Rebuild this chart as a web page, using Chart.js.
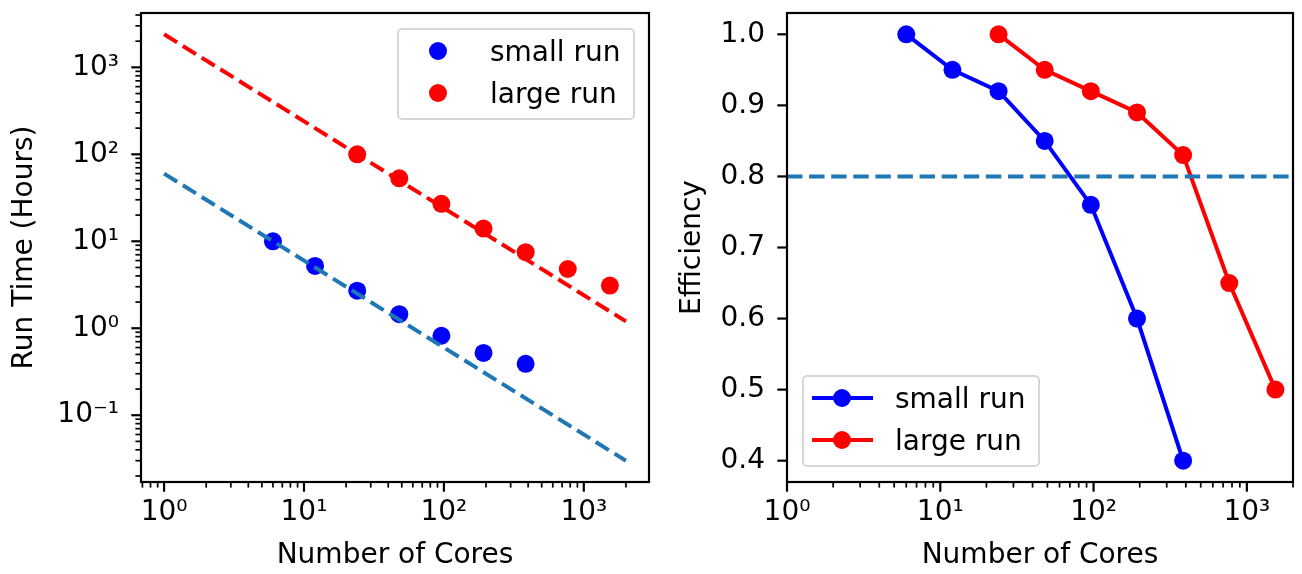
<!DOCTYPE html>
<html>
<head>
<meta charset="utf-8">
<script src="https://cdn.jsdelivr.net/npm/chart.js@4.4.1/dist/chart.umd.min.js"></script>
<style>
  html, body { margin: 0; padding: 0; background: #fff; }
  #wrap { position: relative; width: 1302px; height: 574px; font-family: 'DejaVu Sans', sans-serif; }
  .panel { position: absolute; top: 0; height: 574px; }
  .legend {
    position: absolute; box-sizing: border-box; width: 238px; height: 92px;
    border: 2px solid #d6d6d6; border-radius: 5px; background: rgba(255,255,255,0.8);
  }
  .legend .dot { position: absolute; width: 18px; height: 18px; border-radius: 50%; margin: -9px 0 0 -9px; }
  .legend .seg { position: absolute; height: 4px; margin-top: -2px; }
  .legend .txt { position: absolute; font-size: 28px; line-height: 28px; color: #000; white-space: nowrap; }
</style>
</head>
<body>
<div id="wrap">
  <div class="panel" style="left:0;width:660px"><canvas id="time" width="660" height="574"></canvas></div>
  <div class="panel" style="left:660px;width:642px"><canvas id="eff" width="642" height="574"></canvas></div>
  <div class="legend" id="legend-time" style="left:397px;top:28px"></div>
  <div class="legend" id="legend-eff" style="left:802px;top:375px"></div>
</div>
<script>
// measured data
const seriesNames = ['small run', 'large run'];
const coresSmall = [6, 12, 24, 48, 96, 192, 384];
const coresLarge = [24, 48, 96, 192, 384, 768, 1536];
const timeSmall = [10, 5.2, 2.7, 1.45, 0.82, 0.52, 0.39];
const timeLarge = [100, 53, 27, 14, 7.5, 4.8, 3.1];
const effSmall = [1.0, 0.95, 0.92, 0.85, 0.76, 0.60, 0.40];
const effLarge = [1.0, 0.95, 0.92, 0.89, 0.83, 0.65, 0.50];

// ideal scaling lines (end points)
const idealX = [1, 2000];
const idealSmall = [60, 0.03];
const idealLarge = [2400, 1.2];
const effTarget = [0.8, 0.8];

// tick labels
const decadeTicks = [0.1, 1, 10, 100, 1000];
const decadeLabels = ['10\u207B\u00B9', '10\u2070', '10\u00B9', '10\u00B2', '10\u00B3'];
const effTicks = [0.4, 0.5, 0.6, 0.7, 0.8, 0.9, 1.0];
const effLabels = ['0.4', '0.5', '0.6', '0.7', '0.8', '0.9', '1.0'];

const BLUE = '#0000ff';
const RED = '#ff0000';
const TAB_BLUE = '#1f77b4';
const FONT = "'DejaVu Sans', sans-serif";

Chart.defaults.font.family = FONT;
Chart.defaults.font.size = 28;
Chart.defaults.color = '#000';

const pts = (xs, ys) => xs.map((x, i) => ({ x, y: ys[i] }));

function logTickValues(min, max) {
  const out = [];
  for (let e = -3; e <= 4; e++) {
    for (let m = 1; m <= 9; m++) {
      const v = +(m * Math.pow(10, e)).toPrecision(6);
      if (v >= min && v <= max) out.push(v);
    }
  }
  return out;
}

function labelFor(value, majors, labels) {
  const i = majors.findIndex(m => Math.abs(value - m) <= m * 1e-6);
  return i < 0 ? '' : labels[i];
}

function isMajor(value, majors) {
  return majors.some(m => Math.abs(value - m) <= m * 1e-6);
}

// spines and matplotlib-like outward ticks
const frameTicks = {
  id: 'frameTicks',
  afterDraw(chart, args, opts) {
    const { ctx, chartArea: a, scales } = chart;
    ctx.save();
    ctx.strokeStyle = '#000';
    ctx.lineCap = 'butt';
    scales.x.ticks.forEach(t => {
      const px = scales.x.getPixelForValue(t.value);
      const major = isMajor(t.value, opts.xMajor);
      ctx.lineWidth = major ? 2.2 : 1.7;
      ctx.beginPath();
      ctx.moveTo(px, a.bottom);
      ctx.lineTo(px, a.bottom + (major ? 9.7 : 5.6));
      ctx.stroke();
    });
    scales.y.ticks.forEach(t => {
      const py = scales.y.getPixelForValue(t.value);
      const major = isMajor(t.value, opts.yMajor);
      ctx.lineWidth = major ? 2.2 : 1.7;
      ctx.beginPath();
      ctx.moveTo(a.left, py);
      ctx.lineTo(a.left - (major ? 9.7 : 5.6), py);
      ctx.stroke();
    });
    ctx.lineWidth = 2.2;
    ctx.strokeRect(a.left, a.top, a.right - a.left, a.bottom - a.top);
    ctx.restore();
  }
};

function xAxis(min, max, tickValues, majors, labels) {
  return {
    type: 'logarithmic', min, max,
    grid: { display: false, drawTicks: false },
    border: { display: false },
    afterBuildTicks: s => { s.ticks = tickValues.map(v => ({ value: v })); },
    afterFit: s => { s.height = 92; s.paddingLeft = s.paddingRight = 0; },
    ticks: {
      autoSkip: false, maxRotation: 0, padding: 14,
      callback: v => labelFor(v, majors, labels)
    },
    title: { display: true, text: 'Number of Cores', padding: { top: 0, bottom: 1 } }
  };
}

function yAxis(type, min, max, tickValues, majors, labels, title, width, titlePad) {
  return {
    type, min, max,
    grid: { display: false, drawTicks: false },
    border: { display: false },
    afterBuildTicks: s => { s.ticks = tickValues.map(v => ({ value: v })); },
    afterFit: s => { s.width = width; s.paddingTop = s.paddingBottom = 0; },
    ticks: {
      autoSkip: false, padding: 22,
      callback: v => labelFor(v, majors, labels)
    },
    title: { display: true, text: title, padding: { top: titlePad, bottom: 0 } }
  };
}

const timeChart = new Chart(document.getElementById('time'), {
  type: 'scatter',
  data: {
    datasets: [
      { label: 'ideal large', data: pts(idealX, idealLarge), showLine: true, borderColor: RED,
        borderWidth: 4, borderDash: [15.4, 6.7], pointRadius: 0, order: 0 },
      { label: 'ideal small', data: pts(idealX, idealSmall), showLine: true, borderColor: TAB_BLUE,
        borderWidth: 4, borderDash: [15.4, 6.7], pointRadius: 0, order: 0 },
      { label: seriesNames[0], data: pts(coresSmall, timeSmall), backgroundColor: BLUE,
        pointRadius: 9, pointBorderWidth: 0, order: 1 },
      { label: seriesNames[1], data: pts(coresLarge, timeLarge), backgroundColor: RED,
        pointRadius: 9, pointBorderWidth: 0, order: 1 }
    ]
  },
  options: {
    responsive: false, animation: false, devicePixelRatio: 1,
    layout: { padding: { top: 13, right: 11, left: 0, bottom: 0 } },
    plugins: {
      legend: { display: false }, tooltip: { enabled: false },
      frameTicks: { xMajor: decadeTicks, yMajor: decadeTicks }
    },
    scales: {
      x: xAxis(0.684, 2924, logTickValues(0.684, 2924), decadeTicks, decadeLabels),
      y: yAxis('logarithmic', 0.01706, 4217, logTickValues(0.01706, 4217), decadeTicks, decadeLabels,
        'Run Time (Hours)', 141, 8)
    }
  },
  plugins: [frameTicks]
});

const effChart = new Chart(document.getElementById('eff'), {
  type: 'scatter',
  data: {
    datasets: [
      { label: 'target', data: pts(idealX, effTarget), showLine: true, borderColor: TAB_BLUE,
        borderWidth: 4, borderDash: [15.4, 6.7], pointRadius: 0, order: 0 },
      { label: seriesNames[0], data: pts(coresSmall, effSmall), showLine: true, borderColor: BLUE,
        backgroundColor: BLUE, borderWidth: 4, pointRadius: 9, pointBorderWidth: 0, order: 1 },
      { label: seriesNames[1], data: pts(coresLarge, effLarge), showLine: true, borderColor: RED,
        backgroundColor: RED, borderWidth: 4, pointRadius: 9, pointBorderWidth: 0, order: 1 }
    ]
  },
  options: {
    responsive: false, animation: false, devicePixelRatio: 1,
    layout: { padding: { top: 13, right: 7, left: 0, bottom: 0 } },
    plugins: {
      legend: { display: false }, tooltip: { enabled: false },
      frameTicks: { xMajor: decadeTicks, yMajor: effTicks }
    },
    scales: {
      x: xAxis(1, 2000, logTickValues(1, 2000), decadeTicks, decadeLabels),
      y: yAxis('linear', 0.37, 1.03, effTicks, effTicks, effLabels, 'Efficiency', 127, 16)
    }
  },
  plugins: [frameTicks]
});

// HTML legends built from the dataset list
function buildLegend(el, chart, withLine) {
  chart.data.datasets.filter(d => seriesNames.includes(d.label)).forEach((d, i) => {
    const cy = 21 + i * 42;
    if (withLine) {
      const seg = document.createElement('div');
      seg.className = 'seg';
      seg.style.cssText = `left:8px;width:61px;top:${cy}px;background:${d.borderColor}`;
      el.appendChild(seg);
    }
    const dot = document.createElement('div');
    dot.className = 'dot';
    dot.style.cssText = `left:${withLine ? 38 : 39}px;top:${cy}px;background:${d.backgroundColor}`;
    el.appendChild(dot);
    const txt = document.createElement('div');
    txt.className = 'txt';
    txt.style.cssText = `left:91px;top:${cy - 13}px`;
    txt.textContent = d.label;
    el.appendChild(txt);
  });
}

buildLegend(document.getElementById('legend-time'), timeChart, false);
buildLegend(document.getElementById('legend-eff'), effChart, true);
</script>
</body>
</html>
